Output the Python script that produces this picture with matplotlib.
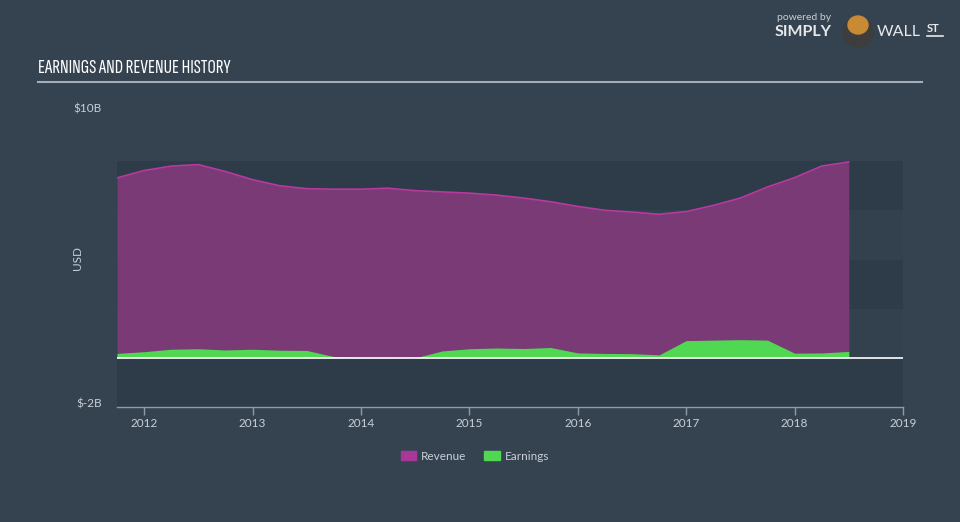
import matplotlib
matplotlib.use("Agg")
import matplotlib.pyplot as plt
import matplotlib.patches as mpatches
import matplotlib.transforms as mtransforms

# Quarterly points (USD billions)
years = [2011.75, 2012.0, 2012.25, 2012.5, 2012.75, 2013.0, 2013.25, 2013.5,
         2013.75, 2014.0, 2014.25, 2014.5, 2014.75, 2015.0, 2015.25, 2015.5,
         2015.75, 2016.0, 2016.25, 2016.5, 2016.75, 2017.0, 2017.25, 2017.5,
         2017.75, 2018.0, 2018.25, 2018.5]
revenue = [7.32, 7.62, 7.80, 7.86, 7.58, 7.25, 7.00, 6.88,
           6.86, 6.86, 6.90, 6.80, 6.75, 6.70, 6.62, 6.50,
           6.35, 6.16, 6.00, 5.93, 5.84, 5.95, 6.20, 6.50,
           6.95, 7.33, 7.80, 7.97]
earnings = [0.18, 0.25, 0.35, 0.37, 0.32, 0.35, 0.31, 0.30,
            0.05, 0.01, 0.01, 0.00, 0.28, 0.37, 0.40, 0.38,
            0.42, 0.20, 0.18, 0.17, 0.12, 0.70, 0.72, 0.74,
            0.72, 0.19, 0.20, 0.26]
x_ticks = [2012, 2013, 2014, 2015, 2016, 2017, 2018, 2019]
y_ticks = [-2, 10]
y_labels = ["$-2B", "$10B"]

BG = "#354351"
BAND_DARK = "#2e3b49"
BAND_LIGHT = "#33404e"
REV_FILL = "#7a3a76"
REV_LINE = "#b8399f"
REV_PATCH = "#a8379a"
EARN = "#50d853"
TEXT = "#c8cfd7"

plt.rcParams["font.family"] = ["Lato", "DejaVu Sans"]

fig = plt.figure(figsize=(9.6, 5.22), dpi=100, facecolor=BG)
ax = fig.add_axes([117 / 960, 115 / 522, 786 / 960, 295 / 522])
ax.set_facecolor("none")

# background bands (only up to 8B, like the reference)
for lo, col in zip([6, 4, 2, 0, -2], [BAND_DARK, BAND_LIGHT, BAND_DARK, BAND_LIGHT, BAND_DARK]):
    ax.axhspan(lo, lo + 2, color=col, zorder=0, lw=0)

ax.fill_between(years, 0, revenue, color=REV_FILL, lw=0, zorder=2)
ax.plot(years, revenue, color=REV_LINE, lw=1.2, zorder=3)
ax.fill_between(years, 0, earnings, color=EARN, lw=0, zorder=4)
ax.axhline(0, color="white", lw=1.2, zorder=5)

ax.set_xlim(2011.75, 2019.0)
ax.set_ylim(-2, 10)
for s in ["top", "right", "left"]:
    ax.spines[s].set_visible(False)
ax.spines["bottom"].set_color("#8e9aa7")
ax.spines["bottom"].set_linewidth(1.0)

ax.set_xticks(x_ticks)
ax.set_xticklabels([str(y) for y in x_ticks])
ax.tick_params(axis="x", colors="#8e9aa7", labelcolor=TEXT, labelsize=8.5,
               length=6, width=1, pad=2)
ax.set_yticks(y_ticks)
ax.set_yticklabels(y_labels)
ax.tick_params(axis="y", length=0, labelcolor=TEXT, labelsize=8.5, pad=11)
shift = mtransforms.ScaledTranslation(0, 3 / 72, fig.dpi_scale_trans)
for lbl in ax.get_yticklabels():
    lbl.set_transform(lbl.get_transform() + shift)

fig.text(78 / 960, 1 - 258 / 522, "USD", rotation=90, color=TEXT, fontsize=8.5,
         ha="center", va="center")

# title and rule
fig.text(38 / 960, 1 - 68 / 522, "EARNINGS AND REVENUE HISTORY", color="white",
         fontsize=15, fontweight="bold",
         family=["Sofia Sans Extra Condensed", "DejaVu Sans"],
         ha="left", va="center")
fig.add_artist(plt.Line2D([38 / 960, 922 / 960], [1 - 82 / 522, 1 - 82 / 522],
                          color="#a7adb4", lw=1.5))

# logo
fig.text(777 / 960, 1 - 18 / 522, "powered by", color="#c8cdd2", fontsize=7.5,
         ha="left", va="center")
fig.text(775 / 960, 1 - 32 / 522, "SIMPLY", color="#e6e8ea", fontsize=11.5,
         fontweight="bold", ha="left", va="center")
fig.add_artist(mpatches.Ellipse((858 / 960, 1 - 32 / 522), 30 / 960, 30 / 522,
                                transform=fig.transFigure, color="#3d3d3d", zorder=3))
fig.add_artist(mpatches.Ellipse((858 / 960, 1 - 25 / 522), 20 / 960, 18 / 522,
                                transform=fig.transFigure, color="#c88a35", zorder=4))
fig.text(877 / 960, 1 - 32 / 522, "WALL", color="#e6e8ea", fontsize=11.5,
         ha="left", va="center", zorder=5)
fig.text(927 / 960, 1 - 28 / 522, "ST", color="#e6e8ea", fontsize=8,
         fontweight="bold", ha="left", va="center", zorder=5)
fig.add_artist(plt.Line2D([927 / 960, 943 / 960], [1 - 36 / 522, 1 - 36 / 522],
                          color="#e6e8ea", lw=1.2))

# legend
handles = [mpatches.Patch(color=REV_PATCH, label="Revenue"),
           mpatches.Patch(color=EARN, label="Earnings")]
leg = fig.legend(handles=handles, loc="center", bbox_to_anchor=(475 / 960, 1 - 456 / 522),
                 ncol=2, frameon=False, fontsize=8.5, handlelength=1.3, handleheight=0.85,
                 columnspacing=1.5, handletextpad=0.45)
for t in leg.get_texts():
    t.set_color(TEXT)

fig.savefig("out.png", dpi=100, facecolor=BG)
